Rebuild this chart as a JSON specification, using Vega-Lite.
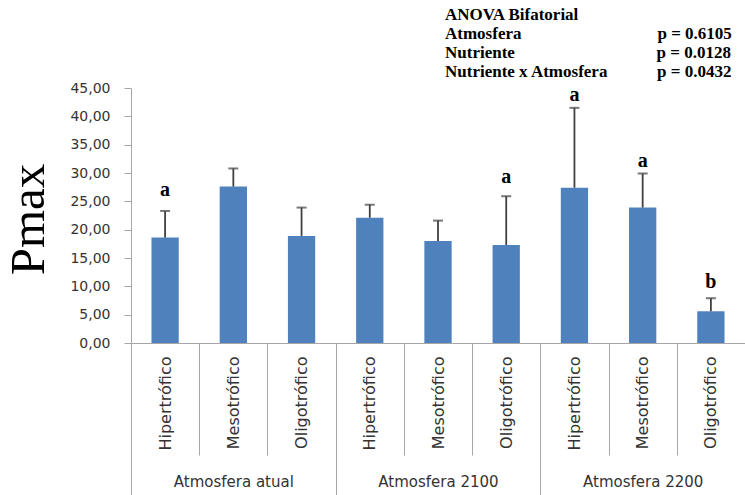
{
  "$schema": "https://vega.github.io/schema/vega-lite/v6.json",
  "width": 614,
  "height": 255,
  "autosize": {"type": "none"},
  "padding": {"left": 131, "top": 88, "right": 0, "bottom": 152},
  "background": "white",
  "config": {"view": {"stroke": null}},
  "title": {
    "text": [
      "ANOVA Bifatorial",
      "Atmosfera\u00a0\u00a0\u00a0\u00a0\u00a0\u00a0\u00a0\u00a0\u00a0\u00a0\u00a0\u00a0\u00a0\u00a0\u00a0\u00a0\u00a0\u00a0\u00a0\u00a0\u00a0\u00a0\u00a0\u00a0\u00a0\u00a0\u00a0\u00a0\u00a0\u00a0\u00a0\u00a0p = 0.6105",
      "Nutriente\u00a0\u00a0\u00a0\u00a0\u00a0\u00a0\u00a0\u00a0\u00a0\u00a0\u00a0\u00a0\u00a0\u00a0\u00a0\u00a0\u00a0\u00a0\u00a0\u00a0\u00a0\u00a0\u00a0\u00a0\u00a0\u00a0\u00a0\u00a0\u00a0\u00a0\u00a0\u00a0\u00a0\u200ap = 0.0128",
      "Nutriente x Atmosfera\u00a0\u00a0\u00a0\u00a0\u00a0\u00a0\u00a0\u00a0\u00a0\u00a0\u00a0\u200a\u200ap = 0.0432"
    ],
    "anchor": "start",
    "frame": "group",
    "dx": 314,
    "dy": 25,
    "offset": 8,
    "font": "Liberation Serif",
    "fontSize": 17,
    "fontWeight": "bold",
    "color": "black",
    "lineHeight": 19,
    "baseline": "bottom"
  },
  "data": {
    "values": [
      {"grupo": "Atmosfera atual", "key": "Atmosfera atual|Hipertrófico", "pmax": 18.6, "upper": 23.3, "letter": "a", "letter_y": 25.9},
      {"grupo": "Atmosfera atual", "key": "Atmosfera atual|Mesotrófico", "pmax": 27.6, "upper": 30.8, "letter": "", "letter_y": null},
      {"grupo": "Atmosfera atual", "key": "Atmosfera atual|Oligotrófico", "pmax": 18.9, "upper": 23.9, "letter": "", "letter_y": null},
      {"grupo": "Atmosfera 2100", "key": "Atmosfera 2100|Hipertrófico", "pmax": 22.1, "upper": 24.4, "letter": "", "letter_y": null},
      {"grupo": "Atmosfera 2100", "key": "Atmosfera 2100|Mesotrófico", "pmax": 18.0, "upper": 21.6, "letter": "", "letter_y": null},
      {"grupo": "Atmosfera 2100", "key": "Atmosfera 2100|Oligotrófico", "pmax": 17.3, "upper": 25.9, "letter": "a", "letter_y": 28.2},
      {"grupo": "Atmosfera 2200", "key": "Atmosfera 2200|Hipertrófico", "pmax": 27.4, "upper": 41.5, "letter": "a", "letter_y": 42.7},
      {"grupo": "Atmosfera 2200", "key": "Atmosfera 2200|Mesotrófico", "pmax": 23.9, "upper": 29.9, "letter": "a", "letter_y": 31.1},
      {"grupo": "Atmosfera 2200", "key": "Atmosfera 2200|Oligotrófico", "pmax": 5.6, "upper": 7.9, "letter": "b", "letter_y": 9.7}
    ]
  },
  "layer": [
    {
      "layer": [
        {
          "mark": {"type": "bar", "color": "#4F81BD", "width": {"band": 0.4}},
          "encoding": {
            "x": {
              "field": "key", "type": "nominal", "sort": null,
              "scale": {"paddingInner": 0, "paddingOuter": 0},
              "axis": {
                "title": null, "orient": "bottom",
                "labelExpr": "split(datum.label, '|')[1]",
                "labelAngle": 270, "labelAlign": "right", "labelBaseline": "middle",
                "labelFont": "DejaVu Sans", "labelFontSize": 16, "labelColor": "#333333",
                "labelPadding": -99, "labelOverlap": false,
                "tickBand": "extent", "tickSize": 112, "tickColor": "#A6A6A6", "tickWidth": 1,
                "domainColor": "#A6A6A6", "domainWidth": 1
              }
            },
            "y": {
              "field": "pmax", "type": "quantitative",
              "scale": {"domain": [0, 45], "nice": false},
              "axis": {
                "title": "Pmax", "titleFont": "Liberation Serif", "titleFontSize": 49,
                "titleFontWeight": "normal", "titleColor": "black",
                "titleAngle": 270, "titleX": -88, "titleY": 131, "titleAlign": "center", "titleBaseline": "alphabetic",
                "values": [0, 5, 10, 15, 20, 25, 30, 35, 40, 45],
                "labelExpr": "replace(format(datum.value, '.2f'), '.', ',')",
                "labelFont": "DejaVu Sans", "labelFontSize": 14, "labelColor": "#333333",
                "labelOverlap": false,
                "tickSize": 7, "labelPadding": 14, "tickColor": "#A6A6A6",
                "domainColor": "#A6A6A6", "grid": false
              }
            }
          }
        },
        {
          "mark": {"type": "rule", "color": "#404040", "strokeWidth": 1.8},
          "encoding": {
            "x": {"field": "key", "type": "nominal", "sort": null},
            "y": {
              "field": "pmax", "type": "quantitative",
              "axis": {
                "title": "Pmax", "titleFont": "Liberation Serif", "titleFontSize": 49,
                "titleFontWeight": "normal", "titleColor": "black",
                "titleAngle": 270, "titleX": -88, "titleY": 131, "titleAlign": "center", "titleBaseline": "alphabetic",
                "values": [0, 5, 10, 15, 20, 25, 30, 35, 40, 45],
                "labelExpr": "replace(format(datum.value, '.2f'), '.', ',')",
                "labelFont": "DejaVu Sans", "labelFontSize": 14, "labelColor": "#333333",
                "labelOverlap": false,
                "tickSize": 7, "labelPadding": 14, "tickColor": "#A6A6A6",
                "domainColor": "#A6A6A6", "grid": false
              }
            },
            "y2": {"field": "upper"}
          }
        },
        {
          "mark": {"type": "tick", "color": "#404040", "size": 10, "thickness": 2},
          "encoding": {
            "x": {"field": "key", "type": "nominal", "sort": null},
            "y": {
              "field": "upper", "type": "quantitative",
              "axis": {
                "title": "Pmax", "titleFont": "Liberation Serif", "titleFontSize": 49,
                "titleFontWeight": "normal", "titleColor": "black",
                "titleAngle": 270, "titleX": -88, "titleY": 131, "titleAlign": "center", "titleBaseline": "alphabetic",
                "values": [0, 5, 10, 15, 20, 25, 30, 35, 40, 45],
                "labelExpr": "replace(format(datum.value, '.2f'), '.', ',')",
                "labelFont": "DejaVu Sans", "labelFontSize": 14, "labelColor": "#333333",
                "labelOverlap": false,
                "tickSize": 7, "labelPadding": 14, "tickColor": "#A6A6A6",
                "domainColor": "#A6A6A6", "grid": false
              }
            }
          }
        },
        {
          "transform": [{"filter": "datum.letter != ''"}],
          "mark": {"type": "text", "font": "Liberation Serif", "fontSize": 20, "fontWeight": "bold", "color": "black", "baseline": "alphabetic", "align": "center"},
          "encoding": {
            "x": {"field": "key", "type": "nominal", "sort": null},
            "y": {
              "field": "letter_y", "type": "quantitative",
              "axis": {
                "title": "Pmax", "titleFont": "Liberation Serif", "titleFontSize": 49,
                "titleFontWeight": "normal", "titleColor": "black",
                "titleAngle": 270, "titleX": -88, "titleY": 131, "titleAlign": "center", "titleBaseline": "alphabetic",
                "values": [0, 5, 10, 15, 20, 25, 30, 35, 40, 45],
                "labelExpr": "replace(format(datum.value, '.2f'), '.', ',')",
                "labelFont": "DejaVu Sans", "labelFontSize": 14, "labelColor": "#333333",
                "labelOverlap": false,
                "tickSize": 7, "labelPadding": 14, "tickColor": "#A6A6A6",
                "domainColor": "#A6A6A6", "grid": false
              }
            },
            "text": {"field": "letter"}
          }
        }
      ]
    },
    {
      "mark": {"type": "bar", "opacity": 0},
      "encoding": {
        "x": {
          "field": "grupo", "type": "nominal", "sort": null,
          "scale": {"paddingInner": 0, "paddingOuter": 0},
          "axis": {
            "title": null, "orient": "bottom", "labelAngle": 0,
            "labelFont": "DejaVu Sans", "labelFontSize": 15, "labelColor": "#333333",
            "labelBaseline": "top", "labelPadding": -21,
            "tickBand": "extent", "tickSize": 152, "tickColor": "#A6A6A6", "domain": false
          }
        }
      }
    }
  ],
  "resolve": {"scale": {"x": "independent"}, "axis": {"x": "independent"}}
}
